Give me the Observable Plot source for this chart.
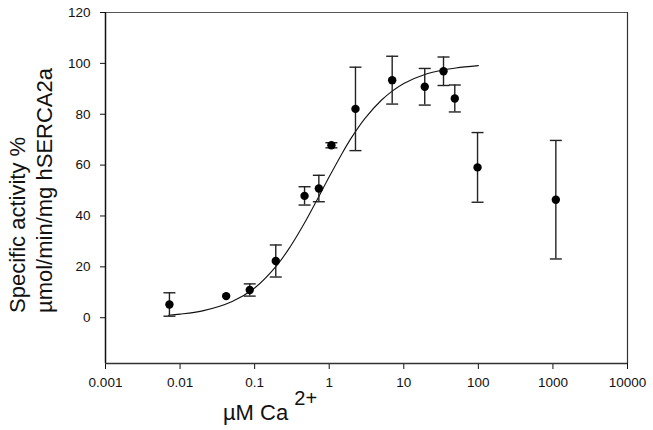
<!DOCTYPE html>
<html>
<head>
<meta charset="utf-8">
<script src="https://cdn.jsdelivr.net/npm/d3@7"></script>
<script src="https://cdn.jsdelivr.net/npm/@observablehq/plot@0.6"></script>
<style>
  html, body { margin: 0; padding: 0; background: #fff; }
  #chart { width: 653px; height: 430px; }
</style>
</head>
<body>
<div id="chart"></div>
<script>
// Measured points: Ca2+ concentration (µM), specific activity (%), error
const conc     = [0.0072, 0.0415, 0.086, 0.192, 0.467, 0.726, 1.07, 2.25, 6.99, 19.1, 34.1, 48.3, 97.5, 1094];
const activity = [5.2, 8.5, 10.9, 22.3, 47.9, 50.8, 67.8, 82.1, 93.4, 90.8, 96.9, 86.2, 59.1, 46.4];
const errors   = [4.6, 0, 2.4, 6.3, 3.6, 5.2, 1.0, 16.4, 9.4, 7.2, 5.6, 5.3, 13.7, 23.3];

// Fitted curve
const fitConc     = [0.007, 0.01, 0.02, 0.05, 0.1, 0.2, 0.3, 0.5, 0.7, 1, 1.5, 2, 3, 5, 7, 10, 20, 30, 50, 100];
const fitActivity = [1.0, 1.4, 2.7, 6.4, 11.7, 20.7, 27.9, 38.8, 46.8, 55.4, 64.8, 70.9, 78.3, 85.5, 89.1, 92.1, 95.8, 97.1, 98.2, 99.1];

// Axis ticks
const xTicks = [0.001, 0.01, 0.1, 1, 10, 100, 1000, 10000];
const xTickLabels = ["0.001", "0.01", "0.1", "1", "10", "100", "1000", "10000"];
const yTicks = [0, 20, 40, 60, 80, 100, 120];
const xDomain = [0.001, 10000];
const yDomain = [-18, 120];

const points = conc.map((c, i) => ({x: c, y: activity[i], e: errors[i], lo: activity[i] - errors[i], hi: activity[i] + errors[i]}));
const bars = points.filter(d => d.e > 0);
const fit = fitConc.map((c, i) => ({x: c, y: fitActivity[i]}));

const cap = {
  draw(context) {
    context.moveTo(-6, 0);
    context.lineTo(6, 0);
  }
};

const plot = Plot.plot({
  width: 653,
  height: 430,
  marginLeft: 105,
  marginRight: 26,
  marginTop: 12,
  marginBottom: 67,
  style: {fontFamily: "'Liberation Sans', Arial, sans-serif", fontSize: "13.5px", color: "#111", background: "#fff"},
  x: {type: "log", domain: xDomain, ticks: xTicks, tickFormat: d => xTickLabels[xTicks.indexOf(d)], tickSize: 6, tickPadding: 8, label: null},
  y: {domain: yDomain, ticks: yTicks, tickSize: 5, tickPadding: 10, label: null},
  marks: [
    Plot.ruleY([yDomain[1]], {stroke: "#555", strokeWidth: 1}),
    Plot.ruleX([xDomain[1]], {stroke: "#333", strokeWidth: 1.2}),
    Plot.ruleX([xDomain[0]], {stroke: "#111", strokeWidth: 1.5}),
    Plot.ruleY([yDomain[0]], {stroke: "#333", strokeWidth: 1.3}),
    Plot.line(fit, {x: "x", y: "y", stroke: "#111", strokeWidth: 1.1, curve: "catmull-rom"}),
    Plot.ruleX(bars, {x: "x", y1: "lo", y2: "hi", stroke: "#222", strokeWidth: 1.4}),
    Plot.dot(bars, {x: "x", y: "hi", symbol: cap, stroke: "#222", strokeWidth: 1.4}),
    Plot.dot(bars, {x: "x", y: "lo", symbol: cap, stroke: "#222", strokeWidth: 1.4}),
    Plot.dot(points, {x: "x", y: "y", r: 4.2, fill: "#000", stroke: "none"})
  ]
});

const svg = d3.select(plot);
const font = "'Liberation Sans', Arial, sans-serif";
const ylab = svg.append("g").attr("font-family", font).attr("font-size", 22).attr("fill", "#111");
ylab.append("text").attr("transform", "translate(25,313) rotate(-90)").attr("text-anchor", "start").text("Specific activity %");
ylab.append("text").attr("transform", "translate(52,313) rotate(-90)").attr("text-anchor", "start").text("µmol/min/mg hSERCA2a");

const xlab = svg.append("text").attr("x", 270).attr("y", 420).attr("font-family", font).attr("font-size", 22).attr("fill", "#111");
xlab.append("tspan").text("µM Ca ");
xlab.append("tspan").attr("dy", -15).attr("font-size", 20).text("2+");

document.getElementById("chart").appendChild(plot);
</script>
</body>
</html>
